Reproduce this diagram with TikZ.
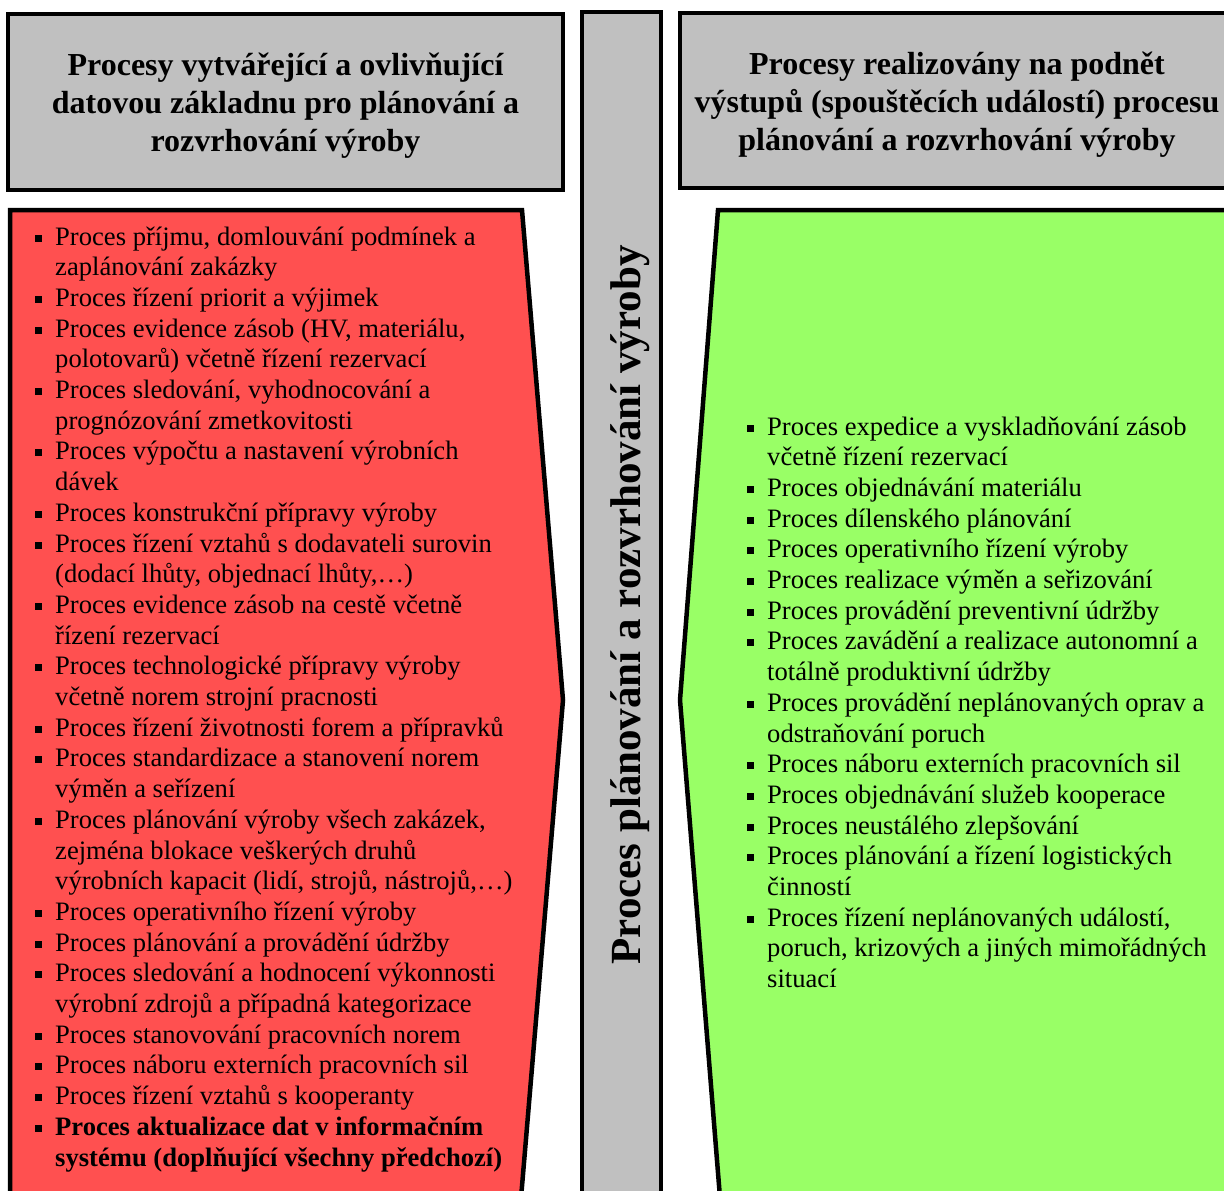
\documentclass[tikz,border=0pt]{standalone}
\usepackage{fontspec}
\setmainfont{Liberation Serif}
\definecolor{boxgray}{HTML}{C0C0C0}
\definecolor{inred}{HTML}{FF5050}
\definecolor{outgreen}{HTML}{99FF66}
% bullet item with hanging indent; \nl continues the item on a new line
\newcommand{\bul}{\par\noindent\hangindent=20pt\hangafter=1%
  \makebox[20pt][l]{\raisebox{3.5pt}{\rule{7pt}{7pt}}}}
\newcommand{\nl}{\newline}
\newcommand{\listfont}{\fontsize{26.6}{30.7}\selectfont}
\begin{document}
\begin{tikzpicture}[x=1pt,y=-1pt,
  frame/.style={draw=black,line width=4.5pt},
  headtext/.style={align=center,inner sep=0pt,font=\fontsize{32}{38}\selectfont\bfseries},
  listbox/.style={inner sep=0pt,anchor=base west}]
\useasboundingbox (0,0) rectangle (1224,1191);
\clip (0,0) rectangle (1224,1191);

% header boxes and the central column
\draw[frame,fill=boxgray] (8,14) rectangle (563,190);
\draw[frame,fill=boxgray] (680,13) rectangle (1234,188);
\draw[frame,fill=boxgray] (582,12) rectangle (661,1215);

% input and output panels
\draw[frame,fill=inred] (10,210) -- (522,210) -- (563,700) -- (520,1210) -- (10,1210) -- cycle;
\draw[frame,fill=outgreen] (718,210) -- (1240,210) -- (1240,1210) -- (721,1210) -- (680,700) -- cycle;

\node[headtext] (hleft) at (285.5,106) {Procesy vytvářející a ovlivňující\\datovou základnu pro plánování a\\rozvrhování výroby};
\node[headtext] (hright) at (957,105) {Procesy realizovány na podnět\\výstupů (spouštěcích událostí) procesu\\plánování a rozvrhování výroby};

\node[rotate=90,anchor=base,inner sep=0pt,font=\fontsize{43}{50}\selectfont\bfseries] (core) at (640,605) {Proces plánování a rozvrhování výroby};

\node[listbox] (inputs) at (35,245) {\parbox[t]{500pt}{\listfont\raggedright
\bul Proces příjmu, domlouvání podmínek a\nl zaplánování zakázky
\bul Proces řízení priorit a výjimek
\bul Proces evidence zásob (HV, materiálu,\nl polotovarů) včetně řízení rezervací
\bul Proces sledování, vyhodnocování a\nl prognózování zmetkovitosti
\bul Proces výpočtu a nastavení výrobních\nl dávek
\bul Proces konstrukční přípravy výroby
\bul Proces řízení vztahů s dodavateli surovin\nl (dodací lhůty, objednací lhůty,…)
\bul Proces evidence zásob na cestě včetně\nl řízení rezervací
\bul Proces technologické přípravy výroby\nl včetně norem strojní pracnosti
\bul Proces řízení životnosti forem a přípravků
\bul Proces standardizace a stanovení norem\nl výměn a seřízení
\bul Proces plánování výroby všech zakázek,\nl zejména blokace veškerých druhů\nl výrobních kapacit (lidí, strojů, nástrojů,…)
\bul Proces operativního řízení výroby
\bul Proces plánování a provádění údržby
\bul Proces sledování a hodnocení výkonnosti\nl výrobní zdrojů a případná kategorizace
\bul Proces stanovování pracovních norem
\bul Proces náboru externích pracovních sil
\bul Proces řízení vztahů s kooperanty
\bul {\bfseries Proces aktualizace dat v informačním\nl systému (doplňující všechny předchozí)}\par}};

\node[listbox] (outputs) at (747,435) {\parbox[t]{500pt}{\listfont\raggedright
\bul Proces expedice a vyskladňování zásob\nl včetně řízení rezervací
\bul Proces objednávání materiálu
\bul Proces dílenského plánování
\bul Proces operativního řízení výroby
\bul Proces realizace výměn a seřizování
\bul Proces provádění preventivní údržby
\bul Proces zavádění a realizace autonomní a\nl totálně produktivní údržby
\bul Proces provádění neplánovaných oprav a\nl odstraňování poruch
\bul Proces náboru externích pracovních sil
\bul Proces objednávání služeb kooperace
\bul Proces neustálého zlepšování
\bul Proces plánování a řízení logistických\nl činností
\bul Proces řízení neplánovaných událostí,\nl poruch, krizových a jiných mimořádných\nl situací\par}};
\end{tikzpicture}
\end{document}
